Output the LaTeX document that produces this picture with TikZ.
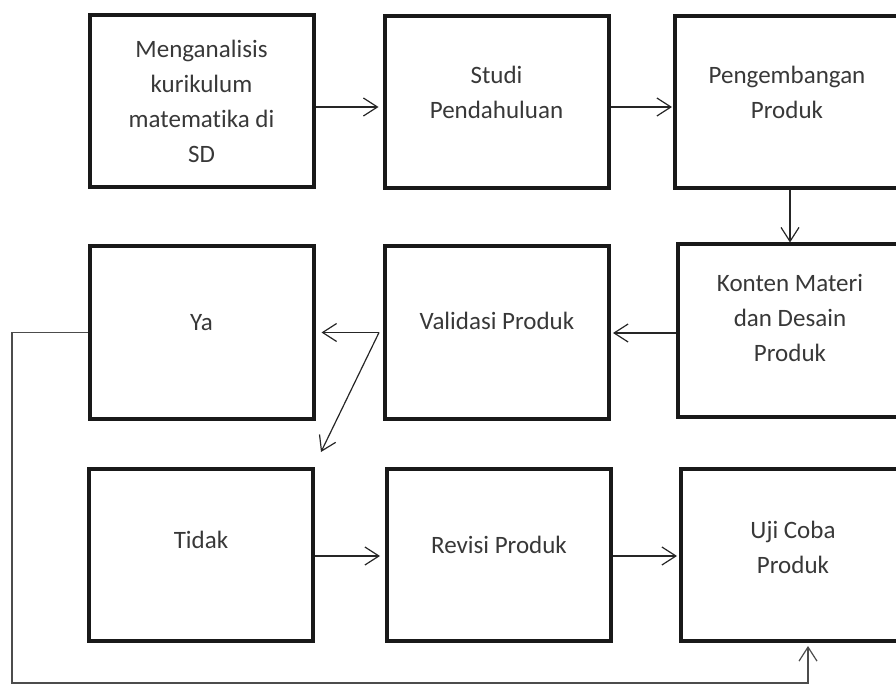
\documentclass[tikz,border=0pt]{standalone}
\usepackage{fontspec}
\setmainfont{Carlito}[Ligatures=NoCommon]
\usepackage{xcolor}
\usetikzlibrary{arrows.meta}

\begin{document}
\begin{tikzpicture}[x=1pt,y=-1pt,
  kotak/.style={draw=black!90, line width=4pt, minimum width=224pt, minimum height=172pt, inner sep=0pt},
  teks/.style={align=center, text=black!78, font=\fontsize{25}{35}\selectfont},
  panah/.style={draw=black!85, line width=1.2pt, -{Straight Barb[length=14pt,width=18pt,line width=1.2pt]}}]

\useasboundingbox (0,0) rectangle (896,684);

\node[kotak] (ana) at (201.5,101) {};
\node[kotak] (studi) at (496.5,102) {};
\node[kotak] (kemb) at (787,102) {};
\node[kotak] (ya) at (201.5,332.5) {};
\node[kotak] (val) at (497,332.5) {};
\node[kotak] (konten) at (790,330.5) {};
\node[kotak] (tidak) at (201,555) {};
\node[kotak] (revisi) at (499,555) {};
\node[kotak] (uji) at (793,555) {};

\node[teks] (t-ana) at (ana) {Menganalisis\\kurikulum\\matematika di\\SD};
\node[teks] (t-studi) at ([yshift=10pt]studi) {Studi\\Pendahuluan};
\node[teks] (t-kemb) at ([yshift=10pt]kemb) {Pengembangan\\Produk};
\node[teks] (t-ya) at ([yshift=10pt]ya) {Ya};
\node[teks] (t-val) at ([yshift=12pt]val) {Validasi Produk};
\node[teks] (t-konten) at ([yshift=13pt]konten) {Konten Materi\\dan Desain\\Produk};
\node[teks] (t-tidak) at ([yshift=15pt]tidak) {Tidak};
\node[teks] (t-revisi) at ([yshift=10pt]revisi) {Revisi Produk};
\node[teks] (t-uji) at ([yshift=8pt]uji) {Uji Coba\\Produk};

\coordinate (pisah) at ([xshift=-4pt]val.west);
\coordinate (miring) at ([xshift=6pt,yshift=15pt]tidak.north east);
\coordinate (kiri) at (12,683);

\draw[panah, shorten >=4pt] ([yshift=-6pt]ana.east) -- ([yshift=-6pt]ana.east -| studi.west);
\draw[panah, shorten >=1pt] ([yshift=-5pt]studi.east) -- ([yshift=-5pt]studi.east -| kemb.west);
\draw[panah] (konten.north |- kemb.south) -- (konten.north);
\draw[panah, shorten >=2pt] ([yshift=-2.5pt]konten.west) -- ([yshift=-2.5pt]konten.west -| val.east);
\draw[panah, shorten >=6pt] (pisah) -- (pisah -| ya.east);
\draw[panah] (pisah) -- (miring);
\draw[panah, shorten >=5pt] ([yshift=-1pt]tidak.east) -- ([yshift=-1pt]tidak.east -| revisi.west);
\draw[panah, shorten >=2pt] ([yshift=-1pt]revisi.east) -- ([yshift=-1pt]revisi.east -| uji.west);
\draw[panah, draw=black!70, shorten >=3pt] (ya.west) -| (kiri) -| ([xshift=15pt]uji.south);
\end{tikzpicture}
\end{document}
